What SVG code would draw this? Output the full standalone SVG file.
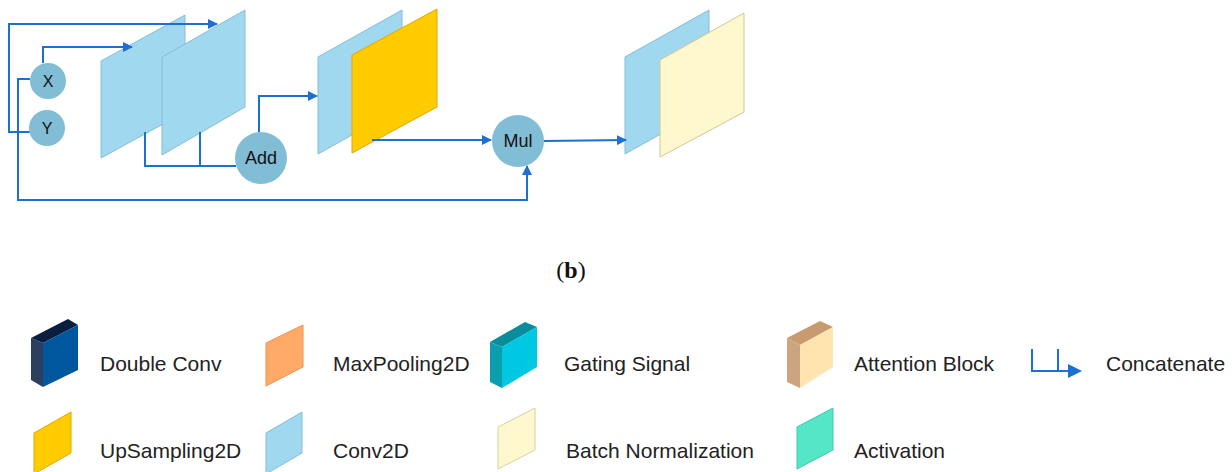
<svg xmlns="http://www.w3.org/2000/svg" width="1232" height="472" viewBox="0 0 1232 472">
<defs>
<marker id="ah" viewBox="0 0 10 10" refX="9" refY="5" markerWidth="10" markerHeight="10" markerUnits="userSpaceOnUse" orient="auto">
<path d="M0,0 L10,5 L0,10 Z" fill="#1E6FD2"/>
</marker>
<style>
.c{fill:none;stroke:#1E6FD2;stroke-width:2}
.blue{fill:#A0D8EF;stroke:#86BCD8;stroke-width:1}
.circ{fill:#82BDD6}
.lbl{font-family:"Liberation Sans",Arial,sans-serif;fill:#111;text-anchor:middle}
.leg{font-family:"Liberation Sans",Arial,sans-serif;font-size:21px;fill:#222}
</style>
</defs>
<rect width="1232" height="472" fill="#fff"/>

<g id="panel1"><polygon class="blue" points="101,61 185,15 185,112 101,158"/></g>
<g id="panel2"><polygon class="blue" points="162,57 245,10 245,107 162,155"/></g>
<g id="panel3"><polygon class="blue" points="318,57 402,10 402,107 318,154"/></g>
<g id="panel4"><polygon points="352,55 437,9 437,107 352,153" fill="#FFCC00" stroke="#E8A400" stroke-width="1"/></g>
<g id="panel5"><polygon class="blue" points="625,57 709,10 709,107 625,154"/></g>
<g id="panel6"><polygon points="660,60 744,13 744,112 660,157" fill="#FFF8CE" stroke="#CFC69A" stroke-width="1"/></g>

<g id="connectors">
<polyline class="c" points="30,132 9,132 9,24 217,24" marker-end="url(#ah)"/>
<polyline class="c" points="43,63 43,47 132,47" marker-end="url(#ah)"/>
<polyline class="c" points="30,79 18,79 18,200 527,200 527,166" marker-end="url(#ah)"/>
<polyline class="c" points="145,132 145,166 236,166"/>
<line class="c" x1="200" y1="132" x2="200" y2="166"/>
<polyline class="c" points="259,132 259,96 317,96" marker-end="url(#ah)"/>
<line class="c" x1="372" y1="140" x2="491" y2="140" marker-end="url(#ah)"/>
<line class="c" x1="544" y1="141" x2="626" y2="140" marker-end="url(#ah)"/>
</g>

<g id="nodeX"><circle class="circ" cx="48" cy="81" r="18"/><text class="lbl" x="48" y="87" font-size="16">X</text></g>
<g id="nodeY"><circle class="circ" cx="47" cy="128" r="18"/><text class="lbl" x="47" y="134" font-size="16">Y</text></g>
<g id="nodeAdd"><circle class="circ" cx="261" cy="158" r="26"/><text class="lbl" x="261" y="164" font-size="18">Add</text></g>
<g id="nodeMul"><circle class="circ" cx="518" cy="141" r="26"/><text class="lbl" x="518" y="147" font-size="18">Mul</text></g>

<text x="571" y="278" font-family="'Liberation Serif','Times New Roman',serif" font-size="24" fill="#111" text-anchor="middle">(<tspan font-weight="bold">b</tspan>)</text>

<g id="legend">
<g id="leg-doubleconv">
<polygon points="31,338 68,319 78,325 43,343" fill="#0B1E3E"/>
<polygon points="31,338 43,343 43,387 31,380" fill="#2B3E5E"/>
<polygon points="43,343 78,325 78,370 43,387" fill="#00579E"/>
<text class="leg" x="100" y="371">Double Conv</text>
</g>
<g id="leg-maxpool">
<polygon points="266,343 303,325 303,367 266,386" fill="#FFAA66" stroke="#F09050" stroke-width="1"/>
<text class="leg" x="333" y="371">MaxPooling2D</text>
</g>
<g id="leg-gating">
<polygon points="490,342 525,322 537,327 502,347" fill="#0A8C9C"/>
<polygon points="490,342 502,347 502,388 490,382" fill="#0B9EAE"/>
<polygon points="502,347 537,327 537,367 502,388" fill="#00C8E2"/>
<text class="leg" x="564" y="371">Gating Signal</text>
</g>
<g id="leg-attention">
<polygon points="787,338 820,321 833,327 800,345" fill="#C89A70"/>
<polygon points="787,338 800,345 800,388 787,382" fill="#CCA482"/>
<polygon points="800,345 833,327 833,367 800,388" fill="#FFE4B0"/>
<text class="leg" x="854" y="371">Attention Block</text>
</g>
<g id="leg-concat">
<polyline class="c" points="1032,349 1032,371 1070,371"/>
<line class="c" x1="1058" y1="349" x2="1058" y2="371"/>
<path d="M1068,364 L1082,371 L1068,378 Z" fill="#1E6FD2"/>
<text class="leg" x="1106" y="371">Concatenate</text>
</g>
<g id="leg-upsampling">
<polygon points="34,433 71,412 71,453 34,474" fill="#FFCC00" stroke="#E8A400" stroke-width="1"/>
<text class="leg" x="100" y="458">UpSampling2D</text>
</g>
<g id="leg-conv2d">
<polygon points="266,433 302,412 302,453 266,474" fill="#A0D8EF" stroke="#86BCD8" stroke-width="1"/>
<text class="leg" x="333" y="458">Conv2D</text>
</g>
<g id="leg-batchnorm">
<polygon points="498,427 535,408 535,450 498,469" fill="#FFF8CE" stroke="#D8CFA0" stroke-width="1"/>
<text class="leg" x="566" y="458">Batch Normalization</text>
</g>
<g id="leg-activation">
<polygon points="797,427 833,408 833,450 797,469" fill="#55E6C8" stroke="#40C8AA" stroke-width="1"/>
<text class="leg" x="854" y="458">Activation</text>
</g>
</g>
</svg>
